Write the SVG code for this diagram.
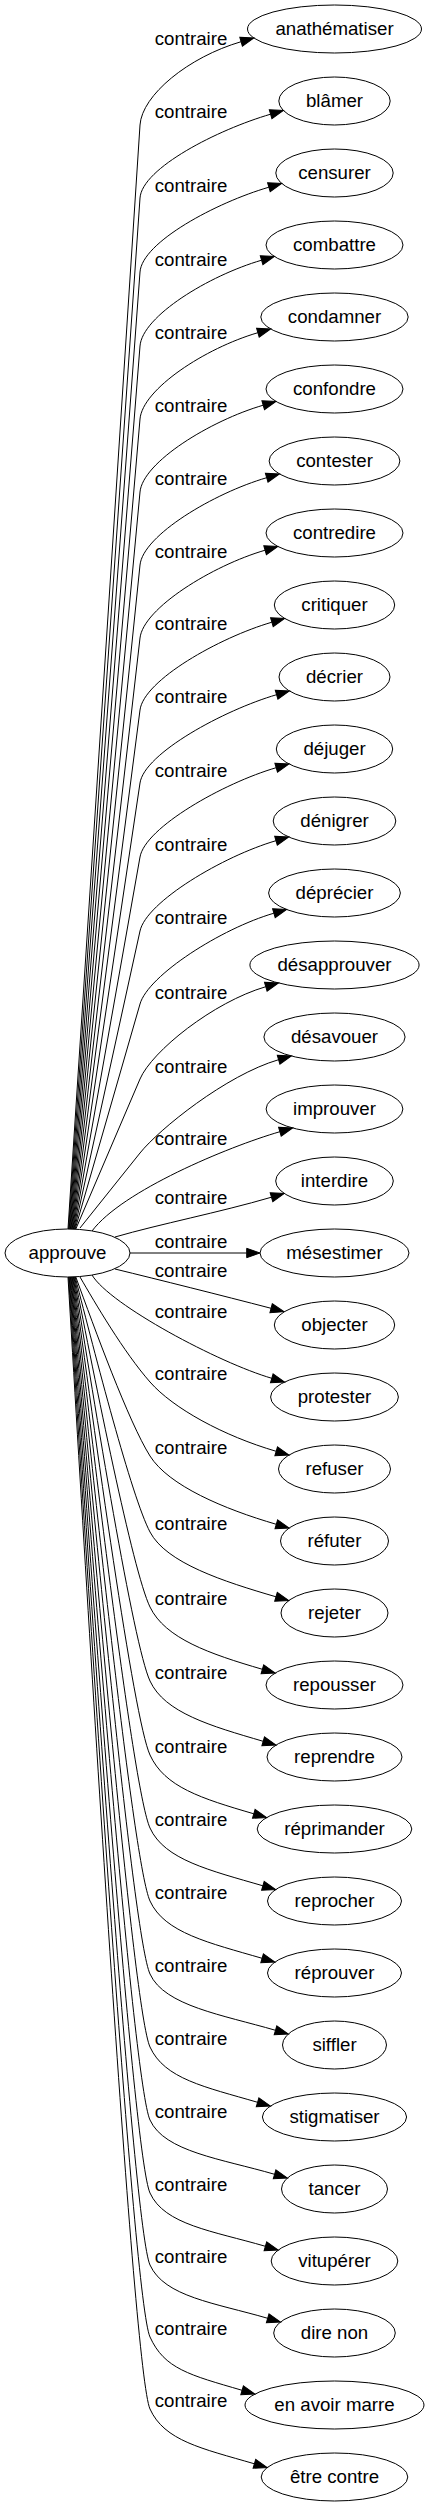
<svg xmlns="http://www.w3.org/2000/svg" width="430" height="2507" viewBox="0 0 430 2507">
<style>
text{font-family:"Liberation Sans",Arial,sans-serif;font-size:18.67px;fill:#000;text-anchor:middle}
.node ellipse{fill:none;stroke:#000;stroke-width:1}
.edge path{fill:none;stroke:#000;stroke-width:1;marker-end:url(#ah)}
</style>
<defs>
<marker id="ah" markerUnits="userSpaceOnUse" markerWidth="14" markerHeight="10" refX="0" refY="4.67" orient="auto" overflow="visible"><path d="M0,0 L13.3,4.67 L0,9.33 Z" fill="#000" stroke="#000" stroke-width="1"/></marker>
</defs>
<rect width="430" height="2507" fill="#fff"/>
<g id="edges">
<g class="edge"><path d="M68,1229 L140,125 C142,95.1 188.3,57.1 241.1,41.7"/><text x="191" y="45">contraire</text></g>
<g class="edge"><path d="M68.6,1229 L140,198 C142.1,168.1 217.8,129.6 270.6,114.2"/><text x="191" y="118">contraire</text></g>
<g class="edge"><path d="M69.2,1229 L140,272 C142.2,242.1 216.1,202.6 268.9,187.2"/><text x="191" y="192">contraire</text></g>
<g class="edge"><path d="M69.8,1229 L140,346 C142.4,316.1 208.8,275.6 261.6,260.2"/><text x="191" y="266">contraire</text></g>
<g class="edge"><path d="M70.4,1229 L140,419 C142.6,389.1 205.1,348.1 257.9,332.7"/><text x="191" y="339">contraire</text></g>
<g class="edge"><path d="M71,1229 L140,492 C142.8,462.1 210.4,420.6 263.2,405.2"/><text x="191" y="412">contraire</text></g>
<g class="edge"><path d="M71.6,1229 L140,565 C143.1,535.2 213.9,493.1 266.7,477.7"/><text x="191" y="485">contraire</text></g>
<g class="edge"><path d="M72.2,1229 L140,638 C143.4,608.2 212.3,565.6 265.1,550.2"/><text x="191" y="558">contraire</text></g>
<g class="edge"><path d="M72.8,1229 L140,710 C143.8,680.2 219.1,637.6 271.9,622.2"/><text x="191" y="630">contraire</text></g>
<g class="edge"><path d="M73.4,1229 L140,783 C144.4,753.3 223.8,710.1 276.6,694.7"/><text x="191" y="703">contraire</text></g>
<g class="edge"><path d="M74,1229 L140,857 C145.2,827.4 223.4,783.1 276.2,767.7"/><text x="191" y="777">contraire</text></g>
<g class="edge"><path d="M74.6,1229 L140,931 C146.4,901.7 223.2,856.1 276,840.7"/><text x="191" y="851">contraire</text></g>
<g class="edge"><path d="M75.2,1229 L140,1004 C148.3,975.2 221.1,928.6 273.9,913.2"/><text x="191" y="924">contraire</text></g>
<g class="edge"><path d="M75.8,1229 L140,1079 C151.8,1051.4 213,1002.1 265.8,986.7"/><text x="191" y="999">contraire</text></g>
<g class="edge"><path d="M80,1228 L140,1153 C158.8,1129.6 225.8,1075.1 278.6,1059.7"/><text x="191" y="1073">contraire</text></g>
<g class="edge"><path d="M92,1231 C122,1191 227.1,1147.1 279.9,1131.7"/><text x="191" y="1145">contraire</text></g>
<g class="edge"><path d="M115,1237 C160,1224 218.7,1212.6 271.5,1197.2"/><text x="191" y="1204">contraire</text></g>
<g class="edge"><path d="M130,1253 L246.7,1253"/><text x="191" y="1248">contraire</text></g>
<g class="edge"><path d="M115,1269 C160,1280 220,1295 271.1,1308.3"/><text x="191" y="1277">contraire</text></g>
<g class="edge"><path d="M92,1275 C110,1305 219,1362.9 271.8,1378.3"/><text x="191" y="1318">contraire</text></g>
<g class="edge"><path d="M80,1277 C95.3,1303.3 123.6,1351.9 150,1382 C173.1,1408.3 223.4,1435.9 276.2,1451.3"/><text x="191" y="1380">contraire</text></g>
<g class="edge"><path d="M75.8,1277 C94.3,1327.8 128.7,1422.2 150,1456 C168.7,1485.6 223.5,1508.9 276.3,1524.3"/><text x="191" y="1454">contraire</text></g>
<g class="edge"><path d="M75.2,1277 C94.9,1353.9 131.4,1496.6 150,1532 C166.3,1563 223.2,1581.4 276,1596.8"/><text x="191" y="1530">contraire</text></g>
<g class="edge"><path d="M74.6,1277 C94.9,1379.9 132.6,1571 150,1607 C165.2,1638.5 209.6,1653.9 262.4,1669.3"/><text x="191" y="1605">contraire</text></g>
<g class="edge"><path d="M74,1277 C94.7,1405.7 133.2,1644.7 150,1681 C164.7,1712.7 210.4,1725.9 263.2,1741.3"/><text x="191" y="1679">contraire</text></g>
<g class="edge"><path d="M73.4,1277 C94.4,1431.6 133.4,1718.6 150,1755 C164.5,1786.9 201,1798.4 253.8,1813.8"/><text x="191" y="1753">contraire</text></g>
<g class="edge"><path d="M72.8,1277 C94,1457.1 133.4,1791.6 150,1828 C164.5,1859.9 210.1,1870.4 262.9,1885.8"/><text x="191" y="1826">contraire</text></g>
<g class="edge"><path d="M72.2,1277 C93.6,1482.7 133.4,1864.6 150,1901 C164.5,1932.9 209.3,1942.9 262.1,1958.3"/><text x="191" y="1899">contraire</text></g>
<g class="edge"><path d="M71.6,1277 C93.2,1508.2 133.4,1937.6 150,1974 C164.5,2005.9 222.7,2014.9 275.5,2030.3"/><text x="191" y="1972">contraire</text></g>
<g class="edge"><path d="M71,1277 C92.8,1533.8 133.4,2010.6 150,2047 C164.5,2078.9 204.8,2086.9 257.6,2102.3"/><text x="191" y="2045">contraire</text></g>
<g class="edge"><path d="M70.4,1277 C92.5,1559.3 133.4,2083.6 150,2120 C164.5,2151.9 221.8,2158.9 274.6,2174.3"/><text x="191" y="2118">contraire</text></g>
<g class="edge"><path d="M69.8,1277 C92.1,1584.9 133.4,2156.6 150,2193 C164.5,2224.9 212.6,2230.9 265.4,2246.3"/><text x="191" y="2191">contraire</text></g>
<g class="edge"><path d="M69.2,1277 C91.7,1610.1 133.4,2228.6 150,2265 C164.5,2296.9 214.9,2302.9 267.7,2318.3"/><text x="191" y="2263">contraire</text></g>
<g class="edge"><path d="M68.6,1277 C91.3,1635.3 133.4,2300.6 150,2337 C164.5,2368.9 189.3,2374.9 242.1,2390.3"/><text x="191" y="2335">contraire</text></g>
<g class="edge"><path d="M68,1277 C90.9,1660.5 133.4,2372.6 150,2409 C164.5,2440.9 201.6,2448.4 254.4,2463.8"/><text x="191" y="2407">contraire</text></g>
</g>
<g id="n-approuve" class="node"><ellipse cx="67.5" cy="1253" rx="62.5" ry="24"/><text x="67.5" y="1259">approuve</text></g>
<g id="n-anathematiser" class="node"><ellipse cx="334.5" cy="29" rx="87" ry="24"/><text x="334.5" y="35">anathématiser</text></g>
<g id="n-blamer" class="node"><ellipse cx="334.5" cy="101" rx="55.7" ry="24"/><text x="334.5" y="107">blâmer</text></g>
<g id="n-censurer" class="node"><ellipse cx="334.5" cy="173" rx="58.7" ry="24"/><text x="334.5" y="179">censurer</text></g>
<g id="n-combattre" class="node"><ellipse cx="334.5" cy="245" rx="68.5" ry="24"/><text x="334.5" y="251">combattre</text></g>
<g id="n-condamner" class="node"><ellipse cx="334.5" cy="317" rx="73.7" ry="24"/><text x="334.5" y="323">condamner</text></g>
<g id="n-confondre" class="node"><ellipse cx="334.5" cy="389" rx="68.5" ry="24"/><text x="334.5" y="395">confondre</text></g>
<g id="n-contester" class="node"><ellipse cx="334.5" cy="461" rx="65.4" ry="24"/><text x="334.5" y="467">contester</text></g>
<g id="n-contredire" class="node"><ellipse cx="334.5" cy="533" rx="68.5" ry="24"/><text x="334.5" y="539">contredire</text></g>
<g id="n-critiquer" class="node"><ellipse cx="334.5" cy="605" rx="60.2" ry="24"/><text x="334.5" y="611">critiquer</text></g>
<g id="n-decrier" class="node"><ellipse cx="334.5" cy="677" rx="55.5" ry="24"/><text x="334.5" y="683">décrier</text></g>
<g id="n-dejuger" class="node"><ellipse cx="334.5" cy="749" rx="58.2" ry="24"/><text x="334.5" y="755">déjuger</text></g>
<g id="n-denigrer" class="node"><ellipse cx="334.5" cy="821" rx="61.3" ry="24"/><text x="334.5" y="827">dénigrer</text></g>
<g id="n-deprecier" class="node"><ellipse cx="334.5" cy="893" rx="65.9" ry="24"/><text x="334.5" y="899">déprécier</text></g>
<g id="n-desapprouver" class="node"><ellipse cx="334.5" cy="965" rx="84.6" ry="24"/><text x="334.5" y="971">désapprouver</text></g>
<g id="n-desavouer" class="node"><ellipse cx="334.5" cy="1037" rx="70.6" ry="24"/><text x="334.5" y="1043">désavouer</text></g>
<g id="n-improuver" class="node"><ellipse cx="334.5" cy="1109" rx="68.4" ry="24"/><text x="334.5" y="1115">improuver</text></g>
<g id="n-interdire" class="node"><ellipse cx="334.5" cy="1181" rx="58.8" ry="24"/><text x="334.5" y="1187">interdire</text></g>
<g id="n-mesestimer" class="node"><ellipse cx="334.5" cy="1253" rx="74.5" ry="24"/><text x="334.5" y="1259">mésestimer</text></g>
<g id="n-objecter" class="node"><ellipse cx="334.5" cy="1325" rx="60.2" ry="24"/><text x="334.5" y="1331">objecter</text></g>
<g id="n-protester" class="node"><ellipse cx="334.5" cy="1397" rx="63.9" ry="24"/><text x="334.5" y="1403">protester</text></g>
<g id="n-refuser" class="node"><ellipse cx="334.5" cy="1469" rx="56" ry="24"/><text x="334.5" y="1475">refuser</text></g>
<g id="n-refuter" class="node"><ellipse cx="334.5" cy="1541" rx="54" ry="24"/><text x="334.5" y="1547">réfuter</text></g>
<g id="n-rejeter" class="node"><ellipse cx="334.5" cy="1613" rx="53.5" ry="24"/><text x="334.5" y="1619">rejeter</text></g>
<g id="n-repousser" class="node"><ellipse cx="334.5" cy="1685" rx="68.5" ry="24"/><text x="334.5" y="1691">repousser</text></g>
<g id="n-reprendre" class="node"><ellipse cx="334.5" cy="1757" rx="67.5" ry="24"/><text x="334.5" y="1763">reprendre</text></g>
<g id="n-reprimander" class="node"><ellipse cx="334.5" cy="1829" rx="77.3" ry="24"/><text x="334.5" y="1835">réprimander</text></g>
<g id="n-reprocher" class="node"><ellipse cx="334.5" cy="1901" rx="67" ry="24"/><text x="334.5" y="1907">reprocher</text></g>
<g id="n-reprouver" class="node"><ellipse cx="334.5" cy="1973" rx="67" ry="24"/><text x="334.5" y="1979">réprouver</text></g>
<g id="n-siffler" class="node"><ellipse cx="334.5" cy="2045" rx="52" ry="24"/><text x="334.5" y="2051">siffler</text></g>
<g id="n-stigmatiser" class="node"><ellipse cx="334.5" cy="2117" rx="72.1" ry="24"/><text x="334.5" y="2123">stigmatiser</text></g>
<g id="n-tancer" class="node"><ellipse cx="334.5" cy="2189" rx="53" ry="24"/><text x="334.5" y="2195">tancer</text></g>
<g id="n-vituperer" class="node"><ellipse cx="334.5" cy="2261" rx="63.3" ry="24"/><text x="334.5" y="2267">vitupérer</text></g>
<g id="n-dire-non" class="node"><ellipse cx="334.5" cy="2333" rx="60.8" ry="24"/><text x="334.5" y="2339">dire non</text></g>
<g id="n-en-avoir-marre" class="node"><ellipse cx="334.5" cy="2405" rx="89.5" ry="24"/><text x="334.5" y="2411">en avoir marre</text></g>
<g id="n-etre-contre" class="node"><ellipse cx="334.5" cy="2477" rx="73.3" ry="24"/><text x="334.5" y="2483">être contre</text></g>
</svg>
